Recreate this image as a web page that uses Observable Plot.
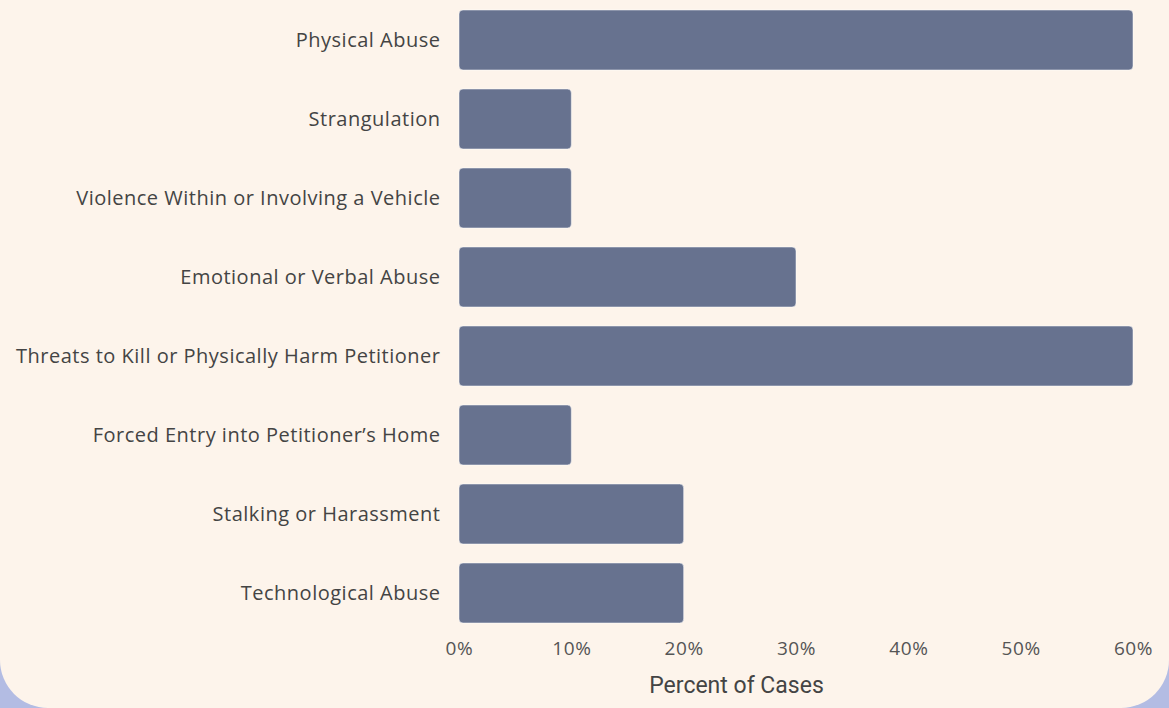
<!DOCTYPE html>
<html>
<head>
<meta charset="utf-8">
<script src="https://cdn.jsdelivr.net/npm/d3@7"></script>
<script src="https://cdn.jsdelivr.net/npm/@observablehq/plot@0.6"></script>
<style>
  html, body { margin: 0; padding: 0; width: 1169px; height: 708px; overflow: hidden; background: #b3bce3; }
  #card { position: absolute; left: 0; top: 0; width: 1169px; height: 708px; background: #fdf4eb;
          border-bottom-left-radius: 48px; border-bottom-right-radius: 48px; overflow: hidden; }
  .yax text { letter-spacing: 0.5px; }
  .xax text { letter-spacing: 0.6px; }
</style>
</head>
<body>
<div id="card"></div>
<script>
const categories = [
  "Physical Abuse",
  "Strangulation",
  "Violence Within or Involving a Vehicle",
  "Emotional or Verbal Abuse",
  "Threats to Kill or Physically Harm Petitioner",
  "Forced Entry into Petitioner\u2019s Home",
  "Stalking or Harassment",
  "Technological Abuse"
];
const percents = [60, 10, 10, 30, 60, 10, 20, 20];
const xTicks = [0, 10, 20, 30, 40, 50, 60];
const xLabel = "Percent of Cases";

const data = categories.map((c, i) => ({category: c, value: percents[i]}));

const chart = Plot.plot({
  width: 1169,
  height: 708,
  marginLeft: 459,
  marginRight: 36,
  marginTop: 0,
  marginBottom: 75,
  style: {background: "transparent", fontFamily: "'Open Sans', sans-serif"},
  x: {domain: [0, 60], ticks: xTicks, tickFormat: d => d + "%", label: null},
  y: {domain: categories, paddingInner: 0.24, paddingOuter: 0.12, label: null},
  marks: [
    Plot.gridX(xTicks, {stroke: "#e6ddd2", strokeOpacity: 1, strokeWidth: 1, y1: 0, y2: 627}),
    Plot.barX(data, {x: "value", y: "category", fill: "#67728f", rx: 4, stroke: "#ffffff", strokeOpacity: 0.5, strokeWidth: 1}),
    Plot.axisX({ticks: xTicks, tickFormat: d => d + "%", tickSize: 0, tickPadding: 8, fontSize: 19, color: "#555", label: null, className: "xax"}),
    Plot.axisY({tickSize: 0, tickPadding: 19, fontSize: 20, color: "#444", label: null, className: "yax"}),
    Plot.text([xLabel], {frameAnchor: "bottom", dx: -60, dy: 59, fontSize: 23, fill: "#444", fontFamily: "Roboto, sans-serif"})
  ]
});
document.getElementById("card").appendChild(chart);
</script>
</body>
</html>
